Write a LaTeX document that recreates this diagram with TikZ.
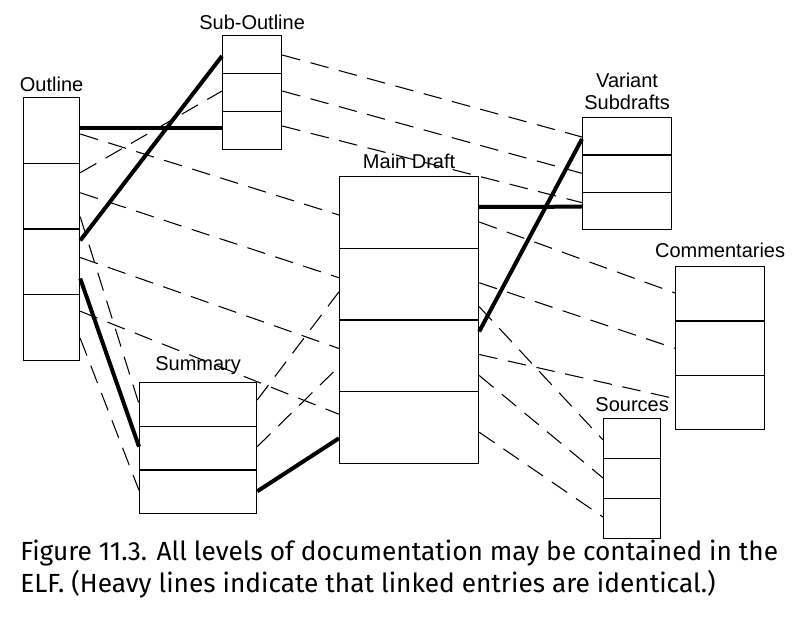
\documentclass[tikz,border=0pt]{standalone}
\usepackage{fontspec}
\setmainfont{Liberation Sans}
\newfontfamily\capfont{Fira Sans}
\usetikzlibrary{positioning,calc}

\tikzset{
  cell/.style={draw, rectangle, inner sep=0pt, anchor=north west, line width=0.9pt},
  lbl/.style={font=\fontsize{15}{17}\selectfont, inner sep=0pt, align=center},
  heavy/.style={line width=3pt},
  link/.style={line width=0.8pt, dash pattern=on 14pt off 8pt},
}

\begin{document}
\begin{tikzpicture}[x=0.75pt,y=0.75pt,yscale=-1,xscale=1]
    \useasboundingbox (0,0) rectangle (802,634);

    %Shape: Rectangle stacks
    \foreach \i in {1,...,4} \node[cell, minimum width=42pt, minimum height=49.3pt] (o\i) at (23,{97+(\i-1)*65.75}) {};
    \foreach \i in {1,...,3} \node[cell, minimum width=44.25pt, minimum height=28.5pt] (s\i) at (222,{35+(\i-1)*38}) {};
    \foreach \i in {1,...,4} \node[cell, minimum width=104.25pt, minimum height=53.8pt] (m\i) at (339,{176+(\i-1)*71.75}) {};
    \foreach \i in {1,...,3} \node[cell, minimum width=66.75pt, minimum height=28pt] (v\i) at (582,{117+(\i-1)*37.33}) {};
    \foreach \i in {1,...,3} \node[cell, minimum width=66.75pt, minimum height=40.75pt] (c\i) at (675,{266+(\i-1)*54.33}) {};
    \foreach \i in {1,...,3} \node[cell, minimum width=42.75pt, minimum height=30pt] (r\i) at (603,{418+(\i-1)*40}) {};
    \foreach \i in {1,...,3} \node[cell, minimum width=87.75pt, minimum height=32.75pt] (u\i) at (139,{382+(\i-1)*43.67}) {};

    % Text Node
    \node[lbl, above=3.5pt of o1] {Outline};
    % Text Node
    \node[lbl, above=3.5pt of s1] {Sub-Outline};
    % Text Node
    \node[lbl, above=5pt of m1] {Main Draft};
    % Text Node
    \node[lbl, above=5pt of v1] {Variant\\Subdrafts};
    % Text Node
    \node[lbl, above=6pt of c1] {Commentaries};
    % Text Node
    \node[lbl, above=5pt of u1] {Summary};
    % Text Node
    \node[lbl, above=4.5pt of r1] {Sources};

    %Straight Lines: heavy links (identical entries)
    \foreach \a/\da/\b/\db in {o1/31/s3/17, o3/12/s1/21, o3/50/u2/21, u3/22/m4/47, m1/31/v3/15, m3/12/v1/22}
      \draw[heavy] ($(\a.north east)+(0,\da)$) -- ($(\b.north west)+(0,\db)$);

    %Straight Lines: dashed links
    \foreach \a/\da/\b/\db in {s1/20/v1/20, s2/18/v2/19, s3/15/v3/11, o2/10/s2/18,
        o1/37/m1/39, o2/30/m2/30, o3/29/m3/29, o4/17/m4/23, o2/54/u1/22, o4/44/u3/21,
        u1/18/m2/44, u2/21/m3/47, m1/46/c1/27, m2/35/c2/28, m3/35/c3/24,
        m2/59/r1/22, m3/56/r2/20, m4/41/r3/19}
      \draw[link] ($(\a.north east)+(0,\da)$) -- ($(\b.north west)+(0,\db)$);

    % Text Node
    \node[anchor=north west, inner sep=0pt, align=left, font=\capfont\fontsize{19.7}{24}\selectfont] (cap) at (20,540)
      {Figure 11.3. All levels of documentation may be contained in the\\ELF. (Heavy lines indicate that linked entries are identical.)};

\end{tikzpicture}
\end{document}
